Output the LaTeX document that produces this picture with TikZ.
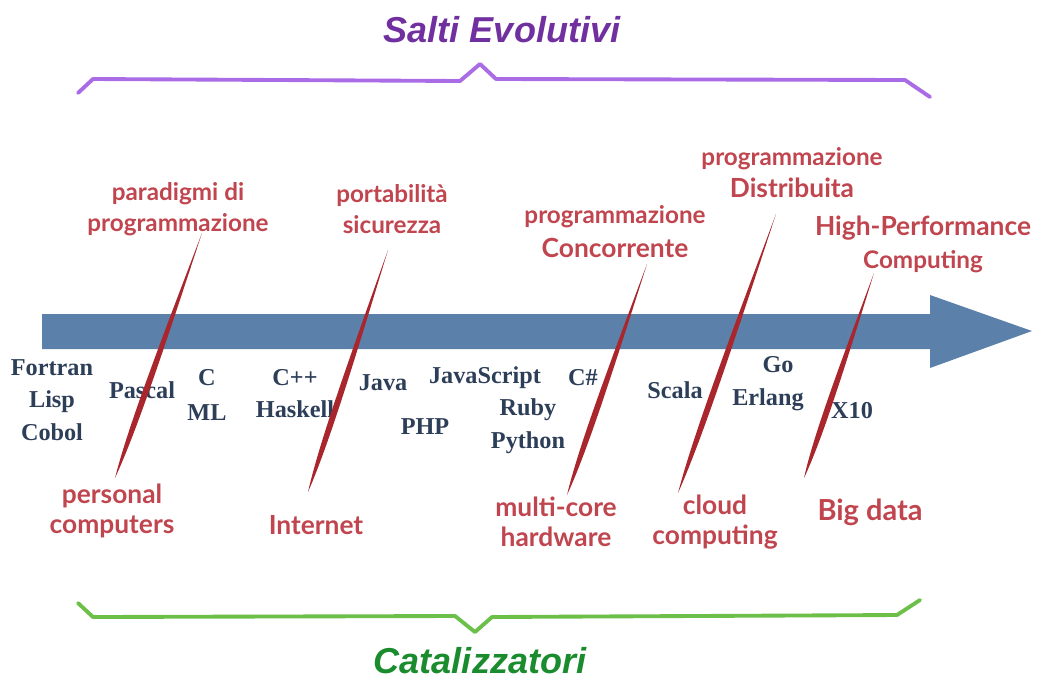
\documentclass[tikz,border=0pt]{standalone}
\usepackage{fontspec}
\setmainfont{Liberation Serif}
\newfontfamily\labelfont{Lato}
\newfontfamily\titlefont{Liberation Sans}
\usetikzlibrary{calc}

\definecolor{arrowblue}{HTML}{5B80AA}
\definecolor{langblue}{HTML}{2C3E58}
\definecolor{labelred}{HTML}{C0454E}
\definecolor{quillred}{HTML}{A8262C}
\definecolor{titlepurple}{HTML}{7030A0}
\definecolor{bracepurple}{HTML}{A96BE6}
\definecolor{titlegreen}{HTML}{1A8C2E}
\definecolor{bracegreen}{HTML}{6CC04A}

% tapered brush stroke between two named coordinates
\newcommand\quillstroke[2]{%
  \fill[quillred]
    (#1) .. controls ($(#1)!0.45!(#2)!1.6pt!90:(#2)$) and ($(#1)!0.8!(#2)!2.8pt!90:(#2)$) ..
    (#2) .. controls ($(#1)!0.8!(#2)!2.8pt!-90:(#2)$) and ($(#1)!0.45!(#2)!1.6pt!-90:(#2)$) ..
    (#1) -- cycle;}

\tikzset{
  lang/.style={font=\bfseries\fontsize{13.8}{18.5}\selectfont, text=langblue,
    align=center, inner sep=0pt},
  event/.style={font=\labelfont\bfseries\fontsize{13.8}{18}\selectfont, text=labelred,
    align=center, inner sep=0pt},
  bigevent/.style={font=\labelfont\bfseries\fontsize{15}{18}\selectfont, text=labelred,
    align=center, inner sep=0pt},
  title/.style={font=\titlefont\bfseries\itshape\fontsize{20.5}{24}\selectfont, inner sep=0pt},
  brace/.style={line width=2.2pt, line join=round, line cap=round},
}

\begin{document}
\begin{tikzpicture}[x=0.02cm, y=-0.02cm]
\useasboundingbox (0,0) rectangle (1037,680);

% time line
\fill[arrowblue] (42,314) -- (930,314) -- (930,295) -- (1032,331)
  -- (930,368) -- (930,349) -- (42,349) -- cycle;

% titles and braces
\node[title, text=titlepurple] (salti) at (502,30) {Salti Evolutivi};
\draw[brace, bracepurple] (78,93) -- (93,79) -- (460,81) -- (480,64)
  -- (496,79) -- (905,80) -- (930,97);
\node[title, text=titlegreen] (catal) at (480,661) {Catalizzatori};
\draw[brace, bracegreen] (78,603) -- (93,617) -- (455,616) -- (475,632)
  -- (492,617) -- (897,615) -- (920,600);

% languages
\node[lang] (fortran) at (52,400) {Fortran\\Lisp\\Cobol};
\node[lang] (pascal) at (142,390) {Pascal};
\node[lang, font=\bfseries\fontsize{13.8}{20.4}\selectfont] (cml) at (207,395) {C\\ML};
\node[lang] (cpp) at (295,393.5) {C++\\Haskell};
\node[lang] (java) at (383,383) {Java};
\node[lang] (js) at (485,378) {JavaScript};
\node[lang] (php) at (425,427) {PHP};
\node[lang] (ruby) at (528,426) {Ruby\\Python};
\node[lang] (csharp) at (583,378) {C\#};
\node[lang] (scala) at (675,390) {Scala};
\node[lang] (go) at (778,365) {Go};
\node[lang] (erlang) at (768,400) {Erlang};
\node[lang] (x10) at (852,411) {X10};

% evolutionary leaps
\node[event] (paradigmi) at (178,209) {paradigmi di\\programmazione};
\node[event] (portab) at (392,209) {portabilità\\sicurezza};
\node[event] (progc) at (615,217) {programmazione};
\node[bigevent] (conc) at (615,248) {Concorrente};
\node[event] (progd) at (792,159) {programmazione};
\node[bigevent] (distr) at (792,188) {Distribuita};
\node[bigevent] (hpc) at (923,228) {High-Performance};
\node[event] (comp) at (923,262) {Computing};

% catalysts
\node[bigevent, font=\labelfont\bfseries\fontsize{15}{17}\selectfont] (pc) at (112,511) {personal\\computers};
\node[bigevent] (internet) at (316,525) {Internet};
\node[bigevent, font=\labelfont\bfseries\fontsize{15}{17}\selectfont] (multicore) at (556,522) {multi-core\\hardware};
\node[bigevent, font=\labelfont\bfseries\fontsize{15}{17}\selectfont] (cloud) at (715,522) {cloud\\computing};
\node[bigevent, font=\labelfont\bfseries\fontsize{16.5}{18}\selectfont] (bigdata) at (870,512) {Big data};

% brush strokes linking each leap to its catalyst
\coordinate (q1t) at (202,233); \coordinate (q1b) at (115,478);
\coordinate (q2t) at (388,250); \coordinate (q2b) at (308,492);
\coordinate (q3t) at (647,264); \coordinate (q3b) at (567,495);
\coordinate (q4t) at (776,214); \coordinate (q4b) at (678,493);
\coordinate (q5t) at (874,273); \coordinate (q5b) at (804,478);
\quillstroke{q1t}{q1b}
\quillstroke{q2t}{q2b}
\quillstroke{q3t}{q3b}
\quillstroke{q4t}{q4b}
\quillstroke{q5t}{q5b}
\end{tikzpicture}
\end{document}
